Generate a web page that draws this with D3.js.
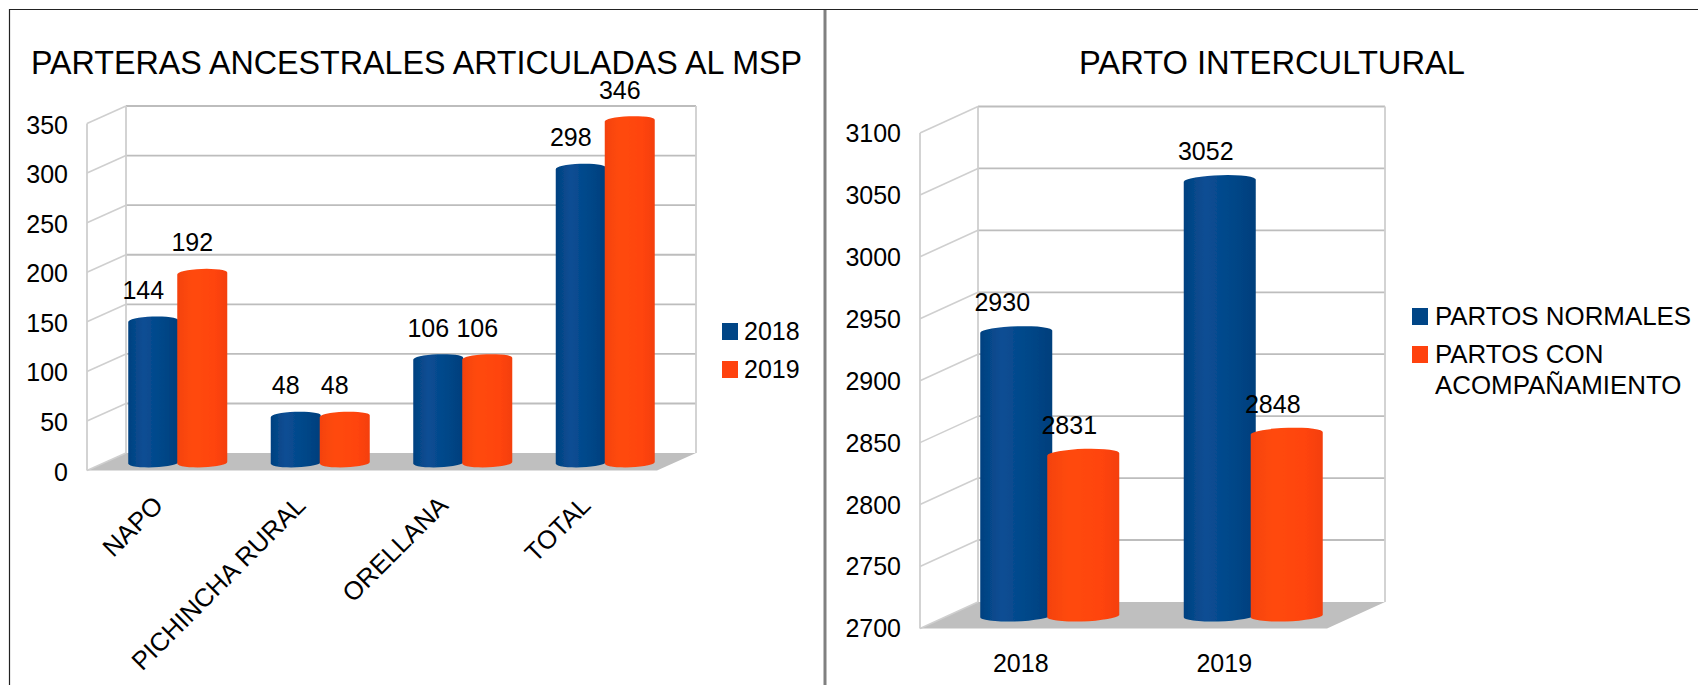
<!DOCTYPE html>
<html>
<head>
<meta charset="utf-8">
<script src="https://cdnjs.cloudflare.com/ajax/libs/d3/7.8.5/d3.min.js"></script>
<style>
html,body{margin:0;padding:0;background:#fff;overflow:hidden}
text{font-family:"Liberation Sans",Arial,sans-serif;fill:#000}
</style>
</head>
<body>
<svg id="chart" width="1698" height="685"></svg>
<script>
// ---- data ----
const leftCategories = ["NAPO", "PICHINCHA RURAL", "ORELLANA", "TOTAL"];
const leftSeriesNames = ["2018", "2019"];
const left2018 = [144, 48, 106, 298];
const left2019 = [192, 48, 106, 346];
const leftTicks = [0, 50, 100, 150, 200, 250, 300, 350];

const rightCategories = ["2018", "2019"];
const rightSeriesNames = [["PARTOS NORMALES"], ["PARTOS CON", "ACOMPAÑAMIENTO"]];
const rightNormales = [2930, 3052];
const rightAcomp = [2831, 2848];
const rightTicks = [2700, 2750, 2800, 2850, 2900, 2950, 3000, 3050, 3100];

const colors = ["#004586", "#ff420e"];
const shades = [["#034180", "#0a4e94", "#004586", "#033f7c"], ["#f4420e", "#ff4a10", "#ff440e", "#f4400c"]];

// ---- page ----
const svg = d3.select("#chart");
const defs = svg.append("defs");
defs.append("filter").attr("id", "soft").append("feGaussianBlur").attr("stdDeviation", 0.6);
shades.forEach((s, i) => {
  const g = defs.append("linearGradient").attr("id", "cyl" + i);
  [0, .3, .75, 1].forEach((o, j) => g.append("stop").attr("offset", o).attr("stop-color", s[j]));
});

// frame
svg.append("path").attr("d", "M9.5,685V9.5H1698").attr("fill", "none").attr("stroke", "#222").attr("stroke-width", 1.2);
svg.append("line").attr("x1", 825).attr("x2", 825).attr("y1", 10).attr("y2", 685).attr("stroke", "#808080").attr("stroke-width", 3);

function drawChart(o) {
  const g = svg.append("g");
  const y = d3.scaleLinear().domain(d3.extent(o.ticks)).range([o.y0, o.yTop]);
  const x = d3.scaleBand().domain(o.categories).range([o.x0, o.x1]);

  // walls
  const w = g.append("g").attr("filter", "url(#soft)");
  const [dx, dy] = o.depth;
  w.append("path")
    .attr("d", `M${o.x0},${o.y0}L${o.x1},${o.y0}L${o.x1 + dx},${o.y0 + dy}L${o.x0 + dx},${o.y0 + dy}Z`)
    .attr("fill", "#bfbfbf");
  o.ticks.forEach(t => {
    w.append("path")
      .attr("d", `M${o.x0},${y(t)}L${o.x0 + dx},${y(t) + dy}`)
      .attr("fill", "none").attr("stroke", "#cfcfcf").attr("stroke-width", 1.6);
    if (t !== o.ticks[0]) {
      w.append("path")
        .attr("d", `M${o.x0 + dx},${y(t) + dy}L${o.x1 + dx},${y(t) + dy}`)
        .attr("fill", "none").attr("stroke", "#bdbdbd").attr("stroke-width", 1.8);
    }
  });
  w.append("path")
    .attr("d", `M${o.x0},${y.range()[0]}V${y.range()[1]}M${o.x0 + dx},${y.range()[0] + dy}V${y.range()[1] + dy}M${o.x1 + dx},${y.range()[0] + dy}V${y.range()[1] + dy}`)
    .attr("fill", "none").attr("stroke", "#cfcfcf").attr("stroke-width", 1.8);

  // bars, drawn as cylinders standing at mid depth
  const bars = g.append("g").attr("filter", "url(#soft)");
  const baseY = y(o.ticks[0]) + dy / 2 + o.barShift / 2;
  const rx = o.barWidth / 2, ry = o.ry;
  o.categories.forEach((c, i) => {
    o.values.forEach((vals, s) => {
      const cx = x(c) + dx / 2 + x.bandwidth() / 2 + o.barDx + (s === 0 ? -o.step / 2 : o.step / 2);
      const top = y(vals[i]) + dy / 2;
      const t = top + o.barShift;
      const d = `M${cx - rx},${t + 1}A${rx},${ry} -2 0 1 ${cx + rx},${t - 1}V${baseY - 1}A${rx},${ry} -2 0 1 ${cx - rx},${baseY + 1}Z`;
      bars.append("path").attr("d", d).attr("fill", `url(#cyl${s})`);
      g.append("text").attr("x", cx + o.labelDx).attr("y", top + o.labelDy)
        .attr("text-anchor", "middle").attr("dominant-baseline", "central")
        .attr("font-size", 25).text(vals[i]);
    });
  });

  // value axis
  const ay = g.append("g").attr("transform", `translate(${o.x0},${o.yLabelDy})`)
    .call(d3.axisLeft(y).tickValues(o.ticks).tickSize(0).tickPadding(o.yPad).tickFormat(d3.format("d")));
  ay.select(".domain").remove();
  ay.selectAll("text").attr("font-size", 25).attr("font-family", null);

  // category axis
  const ax = g.append("g").attr("transform", `translate(${o.xLabelDx},${o.y0})`)
    .call(d3.axisBottom(x).tickSize(0).tickPadding(o.xPad));
  ax.select(".domain").remove();
  ax.selectAll("text").attr("font-size", o.xFont).attr("font-family", null);
  if (o.rotate) {
    ax.selectAll("text").attr("text-anchor", "end").attr("dy", "0.35em")
      .attr("transform", `translate(${o.rotDx},${o.rotDy}) rotate(${o.rotate})`)
      .attr("y", 0).attr("x", 0);
  }

  // title
  g.append("text").attr("x", o.titleX).attr("y", o.titleY).attr("font-size", o.titleSize)
    .attr("textLength", o.titleW).attr("lengthAdjust", "spacingAndGlyphs").text(o.title);

  // legend
  const l = g.append("g");
  o.legend.forEach((lines, i) => {
    l.append("rect").attr("x", o.legX).attr("y", o.legY[i] - 8).attr("width", 16).attr("height", 17)
      .attr("fill", colors[i]);
    lines.forEach((t, k) => {
      l.append("text").attr("x", o.legX + o.legGap).attr("y", o.legY[i] + k * 31)
        .attr("dominant-baseline", "central").attr("font-size", o.legFont).text(t);
    });
  });
}

drawChart({
  title: "PARTERAS ANCESTRALES ARTICULADAS AL MSP", titleX: 31, titleY: 74, titleW: 771, titleSize: 34,
  categories: leftCategories, values: [left2018, left2019], ticks: leftTicks,
  x0: 87, x1: 657, y0: 470.6, yTop: 123.5, depth: [39, -17.5],
  step: 49, barWidth: 50, ry: 4.5, barDx: 0, barShift: 2, labelDx: -10, labelDy: -29,
  yPad: 19, yLabelDy: 1.5, xPad: 0, xLabelDx: 0, xFont: 25.6, rotate: -45, rotDx: 0, rotDy: 30,
  legend: leftSeriesNames.map(n => [n]), legX: 722, legY: [331, 369], legGap: 22, legFont: 25
});

drawChart({
  title: "PARTO INTERCULTURAL", titleX: 1079, titleY: 74, titleW: 386, titleSize: 34,
  categories: rightCategories, values: [rightNormales, rightAcomp], ticks: rightTicks,
  x0: 920, x1: 1327, y0: 628.4, yTop: 133, depth: [58, -26.5],
  step: 67, barWidth: 72, ry: 5.5, barDx: -1, barShift: 1.5, labelDx: -14, labelDy: -28,
  yPad: 19, yLabelDy: 0.5, xPad: 26, xLabelDx: -1, xFont: 25, rotate: 0,
  legend: rightSeriesNames, legX: 1412, legY: [316, 354], legGap: 23, legFont: 25.9
});
</script>
</body>
</html>
